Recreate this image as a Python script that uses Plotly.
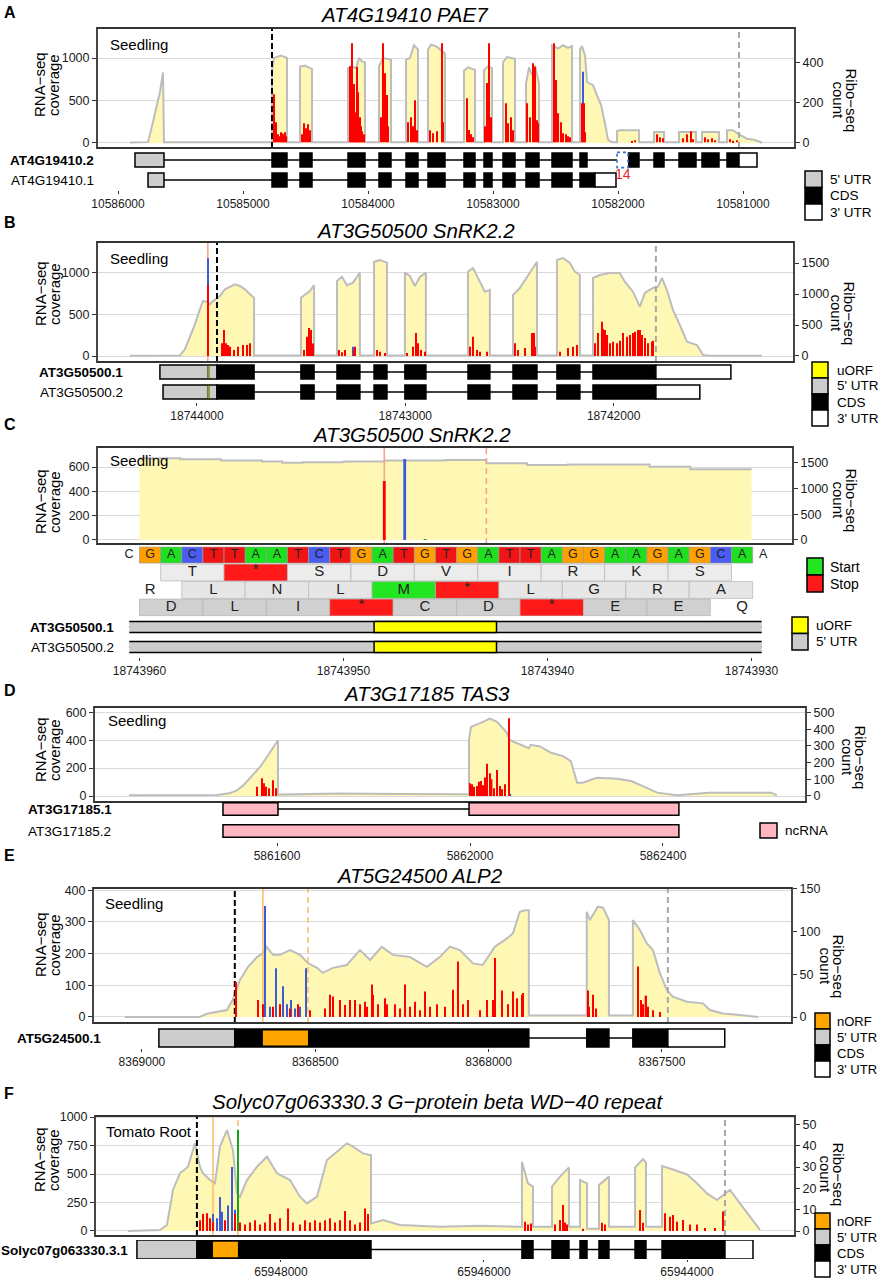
import plotly.graph_objects as go

# ============================ DATA ============================
# ---- Panel A : AT4G19410 PAE7 (Seedling) ----
A_XTICKS = [10586000, 10585000, 10584000, 10583000, 10582000, 10581000]
A_YL_TICKS = [0, 500, 1000]
A_YR_TICKS = [0, 200, 400]
A_COV = [
    (10585904, 5), (10585760, 10), (10585728, 200), (10585696, 420), (10585664, 600), (10585640, 830), (10585632, 8),
    (10584768, 8), (10584768, 850), (10584752, 1000), (10584696, 1030), (10584648, 1000), (10584648, 8),
    (10584544, 8), (10584544, 900), (10584504, 910), (10584448, 870), (10584448, 8),
    (10584160, 8), (10584160, 880), (10584128, 900), (10584096, 880), (10584072, 1000), (10584048, 960), (10584024, 950), (10584024, 8),
    (10583912, 8), (10583912, 900), (10583880, 1000), (10583816, 980), (10583816, 8),
    (10583696, 8), (10583696, 980), (10583664, 1000), (10583632, 1150), (10583600, 1100), (10583600, 8),
    (10583520, 8), (10583520, 1100), (10583496, 1160), (10583448, 1130), (10583384, 1050), (10583384, 8),
    (10583232, 8), (10583232, 850), (10583200, 890), (10583144, 860), (10583144, 8),
    (10583072, 8), (10583072, 860), (10583040, 900), (10583008, 880), (10583008, 8),
    (10582920, 8), (10582920, 950), (10582888, 1010), (10582824, 990), (10582824, 8),
    (10582736, 8), (10582736, 700), (10582712, 890), (10582688, 800), (10582664, 910), (10582632, 700), (10582632, 8),
    (10582528, 8), (10582528, 1150), (10582480, 1110), (10582440, 1150), (10582400, 1120), (10582368, 1140), (10582368, 8),
    (10582304, 8), (10582304, 1100), (10582288, 1140), (10582264, 1030), (10582248, 720), (10582224, 700), (10582200, 680),
    (10582168, 560), (10582136, 450), (10582104, 230), (10582080, 40), (10582048, 8),
    (10582008, 8), (10582008, 140), (10581984, 150), (10581832, 150), (10581832, 8),
    (10581712, 8), (10581712, 130), (10581632, 130), (10581632, 8),
    (10581512, 8), (10581512, 130), (10581376, 130), (10581376, 8),
    (10581328, 8), (10581328, 130), (10581192, 130), (10581192, 8),
    (10581128, 8), (10581128, 150), (10581080, 150), (10581032, 100), (10580968, 50), (10580904, 35), (10580848, 3),
]
A_RED = [
    (10584752, 240), (10584744, 60), (10584736, 100), (10584720, 40), (10584712, 30), (10584696, 50), (10584688, 45),
    (10584680, 40), (10584672, 35), (10584664, 50), (10584656, 30),
    (10584528, 40), (10584512, 95), (10584496, 70), (10584480, 90), (10584464, 60),
    (10584144, 380), (10584136, 120), (10584128, 495), (10584120, 200), (10584112, 292), (10584104, 90), (10584096, 150),
    (10584088, 378), (10584080, 250), (10584072, 60), (10584064, 125), (10584056, 80), (10584048, 55), (10584040, 30), (10584032, 40),
    (10583896, 125), (10583880, 495), (10583864, 345), (10583848, 236), (10583840, 80),
    (10583680, 100), (10583656, 125), (10583640, 80), (10583624, 210), (10583608, 60),
    (10583504, 60), (10583480, 45), (10583448, 55), (10583408, 495), (10583400, 100),
    (10583208, 220), (10583192, 62), (10583176, 40), (10583160, 25),
    (10583064, 80), (10583048, 296), (10583032, 495), (10583016, 125),
    (10582896, 195), (10582880, 95), (10582856, 125), (10582840, 60),
    (10582728, 195), (10582704, 125), (10582680, 395), (10582664, 378), (10582648, 110), (10582640, 95),
    (10582512, 495), (10582496, 312), (10582480, 145), (10582456, 100), (10582440, 45), (10582416, 40), (10582400, 30), (10582384, 25),
    (10582288, 195), (10582272, 195), (10582264, 50),
    (10581888, 5), (10581864, 10),
    (10581688, 40), (10581664, 25), (10581640, 20),
    (10581480, 20), (10581448, 40), (10581416, 55), (10581400, 15),
    (10581304, 25), (10581280, 15), (10581248, 20), (10581224, 10),
    (10581104, 15), (10581080, 8), (10581048, 10),
]
A_BLUE = [(10582280, 353)]
A_GREEN = [(10582504, 270)]
A_START, A_STOP = 10584768, 10581032
A_CDS_SHARED = [(10584768, 10584648), (10584544, 10584448), (10584160, 10584024), (10583912, 10583816),
                (10583696, 10583600), (10583520, 10583384), (10583232, 10583144), (10583072, 10583008),
                (10582920, 10582824), (10582736, 10582632), (10582528, 10582368)]
A_TX = [
    dict(name="AT4G19410.2", bold=True, utr5=[(10585864, 10585632)],
         cds=A_CDS_SHARED + [(10582304, 10582248), (10581920, 10581832), (10581712, 10581632),
                             (10581512, 10581376), (10581328, 10581192), (10581128, 10581032)],
         utr3=[(10581032, 10580888)]),
    dict(name="AT4G19410.1", bold=False, utr5=[(10585760, 10585632)],
         cds=A_CDS_SHARED + [(10582304, 10582184)], utr3=[(10582184, 10582016)]),
]
A_NOVEL_EXON = (10582008, 10581920)
A_NOVEL_LABEL = "14"

# ---- Panels B and C : AT3G50500 SnRK2.2 (Seedling) ----
B_XTICKS = [18744000, 18743000, 18742000]
B_YL_TICKS = [0, 500, 1000]
B_YR_TICKS = [0, 500, 1000, 1500]
B_COV = [
    (18744322, 3), (18744082, 5), (18744058, 80), (18744034, 230), (18744010, 380), (18743986, 560), (18743971, 660),
    (18743952, 650), (18743938, 620), (18743928, 650), (18743904, 690), (18743890, 720), (18743866, 800), (18743842, 830),
    (18743818, 860), (18743794, 840), (18743770, 800), (18743746, 740), (18743726, 700), (18743726, 5),
    (18743501, 5), (18743501, 700), (18743482, 740), (18743458, 780), (18743438, 850), (18743438, 5),
    (18743328, 5), (18743328, 900), (18743304, 950), (18743280, 850), (18743251, 880), (18743218, 1000), (18743218, 5),
    (18743150, 5), (18743150, 1130), (18743122, 1150), (18743088, 1120), (18743088, 5),
    (18743002, 5), (18743002, 1000), (18742978, 960), (18742954, 840), (18742930, 950), (18742901, 1000), (18742901, 5),
    (18742699, 5), (18742699, 1010), (18742675, 1056), (18742642, 892), (18742618, 772), (18742594, 792), (18742594, 5),
    (18742483, 5), (18742483, 732), (18742450, 816), (18742416, 952), (18742387, 1072), (18742368, 1132), (18742368, 5),
    (18742272, 5), (18742272, 1152), (18742243, 1176), (18742210, 1116), (18742186, 1012), (18742162, 972), (18742162, 5),
    (18742099, 5), (18742099, 936), (18742066, 972), (18742018, 996), (18741970, 996), (18741946, 892), (18741907, 772),
    (18741874, 592), (18741850, 756), (18741811, 816), (18741787, 832), (18741768, 936), (18741744, 792), (18741715, 552),
    (18741682, 372), (18741648, 172), (18741600, 132), (18741571, 12), (18741538, 3), (18741288, 3),
]
SNRK_RED = [
    (18743948, 1148), (18743880, 204), (18743870, 419), (18743861, 204), (18743851, 177), (18743842, 150), (18743822, 97),
    (18743803, 150), (18743779, 177), (18743760, 177), (18743746, 204),
    (18743486, 97), (18743472, 310), (18743462, 450), (18743453, 420), (18743443, 200),
    (18743318, 97), (18743304, 60), (18743290, 97), (18743246, 97), (18743242, 150),
    (18743136, 97), (18743122, 70), (18743098, 48),
    (18742992, 48), (18742963, 150), (18742949, 371), (18742939, 204), (18742925, 97), (18742906, 70),
    (18742690, 150), (18742675, 311), (18742656, 97), (18742642, 70), (18742608, 70),
    (18742474, 204), (18742459, 97), (18742426, 130), (18742392, 371), (18742382, 371), (18742378, 150),
    (18742258, 70), (18742219, 130), (18742195, 150), (18742176, 177),
    (18742090, 204), (18742075, 371), (18742056, 554), (18742051, 440), (18742042, 419), (18742032, 338), (18742018, 204),
    (18742003, 230), (18741984, 204), (18741970, 247), (18741955, 371), (18741936, 311), (18741922, 338), (18741907, 371),
    (18741898, 392), (18741883, 419), (18741874, 419), (18741864, 338), (18741850, 290), (18741834, 204), (18741816, 230),
    (18741811, 247),
]
SNRK_BLUE = [(18743947, 1575), (18743251, 150)]
SNRK_GREEN = [(18743946, 15)]
SNRK_UORF_START, SNRK_UORF_STOP = 18743948, 18743943
SNRK_START, SNRK_STOP = 18743904, 18741797
SNRK_CDS = [(18743904, 18743726), (18743501, 18743438), (18743328, 18743218), (18743150, 18743088), (18743002, 18742901),
            (18742699, 18742594), (18742483, 18742368), (18742272, 18742162), (18742099, 18741797)]
SNRK_TX = [
    dict(name="AT3G50500.1", bold=True, utr5=[(18744178, 18743904)], cds=SNRK_CDS, utr3=[(18741797, 18741437)],
         orf=[(18743948.5, 18743942.5)]),
    dict(name="AT3G50500.2", bold=False, utr5=[(18744163, 18743904)], cds=SNRK_CDS, utr3=[(18741797, 18741586)],
         orf=[(18743948.5, 18743942.5)]),
]
C_XTICKS = [18743960, 18743950, 18743940, 18743930]
C_YL_TICKS = [0, 200, 400, 600]
C_YR_TICKS = [0, 500, 1000, 1500]
C_COV = [
    (18743960, 672), (18743959, 672), (18743958, 664), (18743957, 664), (18743956, 653), (18743955, 653), (18743954, 645),
    (18743953, 636), (18743952, 639), (18743951, 639), (18743950, 645), (18743949, 645), (18743948, 653), (18743947, 653),
    (18743946, 653), (18743945, 658), (18743944, 658), (18743943, 631), (18743942, 631), (18743941, 617), (18743940, 617),
    (18743939, 622), (18743938, 622), (18743937, 622), (18743936, 622), (18743935, 603), (18743934, 603), (18743933, 582),
    (18743932, 582), (18743931, 582), (18743930, 582),
]
C_SEQ = "GACTTAATCTGATGTGATTAGGAAGAGCA"
C_FLANKS = ("C", "A")
# (amino acids, first nucleotide index, partial codon at left, partial codon at right)
C_FRAMES = [("T*SDVIRKS", 2, "", ""), ("LNLM*LGRA", 3, "R", ""), ("DLI*CD*EE", 1, "", "Q")]

# ---- Panel D : AT3G17185 TAS3 (Seedling) ----
D_XTICKS = [5861600, 5862000, 5862400]
D_YL_TICKS = [0, 200, 400, 600]
D_YR_TICKS = [0, 100, 200, 300, 400, 500]
D_COV = [
    (5861293, 5), (5861476, 7), (5861501, 19), (5861517, 40), (5861530, 76), (5861546, 138), (5861565, 209), (5861577, 269),
    (5861588, 329), (5861600, 388), (5861602, 400), (5861602, 10), (5861731, 18), (5861855, 15), (5861998, 12),
    (5861998, 400), (5862002, 495), (5862027, 531), (5862041, 555), (5862056, 531), (5862075, 460), (5862083, 400),
    (5862104, 367), (5862122, 343), (5862126, 367), (5862145, 355), (5862168, 310), (5862193, 286), (5862209, 250),
    (5862222, 95), (5862234, 95), (5862263, 131), (5862305, 124), (5862334, 107), (5862365, 60), (5862388, 24),
    (5862429, 5), (5862495, 24), (5862624, 24), (5862636, 5),
]
D_RED = [
    (5861559, 56), (5861569, 106), (5861573, 76), (5861577, 56), (5861583, 46), (5861592, 94), (5861598, 46),
    (5862000, 76), (5862004, 70), (5862008, 56), (5862014, 60), (5862019, 86), (5862023, 90), (5862027, 65),
    (5862031, 110), (5862035, 193), (5862041, 136), (5862045, 100), (5862050, 46), (5862056, 156), (5862062, 60),
    (5862066, 40), (5862072, 70), (5862081, 465),
]
D_BLUE = [(5862084, 10)]
D_TX = [
    dict(name="AT3G17185.1", bold=True, ncrna=[(5861488, 5861602), (5861998, 5862433)]),
    dict(name="AT3G17185.2", bold=False, ncrna=[(5861488, 5862433)]),
]

# ---- Panel E : AT5G24500 ALP2 (Seedling) ----
E_XTICKS = [8369000, 8368500, 8368000, 8367500]
E_YL_TICKS = [0, 100, 200, 300, 400]
E_YR_TICKS = [0, 50, 100, 150]
E_COV = [
    (8369049, 0), (8368833, 0), (8368813, 10), (8368755, 22), (8368738, 54), (8368717, 117), (8368694, 158), (8368668, 189),
    (8368651, 202), (8368640, 221), (8368622, 196), (8368602, 196), (8368573, 211), (8368544, 196), (8368521, 170),
    (8368495, 155), (8368478, 139), (8368449, 155), (8368409, 164), (8368371, 211), (8368342, 180), (8368308, 221),
    (8368276, 196), (8368227, 189), (8368178, 158), (8368141, 189), (8368112, 222), (8368083, 211), (8368045, 169),
    (8368017, 164), (8367982, 222), (8367947, 248), (8367930, 264), (8367910, 332), (8367895, 337), (8367884, 337),
    (8367884, 5), (8367717, 5), (8367717, 332), (8367708, 306), (8367685, 348), (8367670, 345), (8367653, 306),
    (8367653, 5), (8367584, 5), (8367584, 306), (8367564, 275), (8367544, 233), (8367526, 211), (8367506, 138),
    (8367486, 85), (8367469, 64), (8367428, 48), (8367382, 43), (8367362, 22), (8367324, 11), (8367275, 6), (8367223, 0),
]
E_RED = [
    (8368729, 41), (8368665, 20), (8368651, 15), (8368622, 12), (8368602, 15), (8368573, 10), (8368550, 15), (8368515, 8),
    (8368472, 10), (8368458, 26), (8368449, 24), (8368429, 20), (8368415, 14), (8368400, 20), (8368386, 20), (8368371, 15),
    (8368357, 18), (8368351, 12), (8368337, 38), (8368334, 26), (8368319, 15), (8368299, 22), (8368293, 15), (8368270, 15),
    (8368256, 10), (8368241, 38), (8368227, 12), (8368213, 18), (8368198, 8), (8368184, 30), (8368169, 12), (8368149, 15),
    (8368126, 12), (8368103, 32), (8368089, 65), (8368074, 15), (8368060, 20), (8368025, 8), (8368005, 20), (8367988, 20),
    (8367982, 69), (8367962, 31), (8367945, 15), (8367930, 30), (8367918, 22), (8367904, 26), (8367901, 28),
    (8367714, 31), (8367710, 12), (8367699, 26), (8367690, 10),
    (8367570, 59), (8367560, 20), (8367555, 15), (8367548, 25), (8367541, 12), (8367526, 8), (8367506, 6),
]
E_BLUE = [(8368645, 130), (8368631, 12), (8368614, 57), (8368593, 36), (8368582, 15), (8368570, 20), (8368559, 10),
          (8368544, 12), (8368527, 57)]
E_START, E_NORF_START, E_NORF_STOP, E_STOP = 8368732, 8368651, 8368521, 8367483
E_TX = [dict(name="AT5G24500.1", bold=True, utr5=[(8368951, 8368732)],
             cds=[(8368732, 8367884), (8367717, 8367653), (8367584, 8367483)], utr3=[(8367483, 8367319)],
             orf=[(8368651, 8368521)])]

# ---- Panel F : Solyc07g063330.3 (Tomato Root) ----
F_XTICKS = [65948000, 65946000, 65944000]
F_YL_TICKS = [0, 250, 500, 750, 1000]
F_YR_TICKS = [0, 10, 20, 30, 40, 50]
F_COV = [
    (65949507, 0), (65949192, 9), (65949123, 53), (65949064, 360), (65948995, 506), (65948916, 564), (65948847, 769),
    (65948798, 564), (65948768, 506), (65948699, 447), (65948650, 418), (65948601, 740), (65948532, 886), (65948473, 710),
    (65948433, 330), (65948404, 300), (65948335, 447), (65948236, 564), (65948138, 652), (65948039, 506), (65947911, 447),
    (65947813, 301), (65947744, 242), (65947645, 301), (65947547, 623), (65947488, 667), (65947350, 769), (65947291, 740),
    (65947192, 681), (65947123, 667), (65947113, 667), (65947113, 67), (65946995, 96), (65946828, 53), (65946434, 38),
    (65946039, 45), (65945645, 38), (65945626, 38), (65945626, 608), (65945567, 418), (65945517, 389), (65945517, 38),
    (65945330, 38), (65945330, 389), (65945251, 477), (65945163, 558), (65945163, 38), (65945054, 38), (65945054, 447),
    (65944985, 418), (65944985, 20), (65944867, 20), (65944867, 404), (65944769, 477), (65944769, 38), (65944512, 38),
    (65944512, 558), (65944433, 632), (65944404, 600), (65944404, 38), (65944246, 38), (65944246, 570), (65944138, 540),
    (65944000, 496), (65943902, 418), (65943803, 330), (65943705, 272), (65943626, 330), (65943577, 360), (65943478, 242),
    (65943379, 126), (65943281, 9),
]
F_RED = [
    (65948798, 5), (65948768, 8), (65948729, 8.3), (65948699, 6), (65948670, 4), (65948552, 5), (65948453, 8),
    (65948404, 4), (65948355, 3), (65948305, 4), (65948256, 5), (65948207, 3), (65948158, 4), (65948108, 8),
    (65948059, 4), (65948010, 6), (65947931, 10.6), (65947882, 4), (65947813, 3), (65947764, 5), (65947714, 4),
    (65947665, 5), (65947616, 4), (65947567, 5), (65947517, 6), (65947468, 4), (65947419, 5), (65947369, 9.4),
    (65947320, 5), (65947271, 3), (65947222, 4), (65947172, 10.6), (65947143, 8),
    (65945596, 4.4), (65945567, 3), (65945537, 3.5), (65945301, 3), (65945251, 5.2), (65945222, 12.2), (65945202, 4),
    (65945182, 3), (65945025, 1), (65944838, 3.9), (65944808, 3), (65944463, 9.9), (65944434, 3.9),
    (65944217, 8.3), (65944168, 6.7), (65944138, 7.5), (65944099, 4.4), (65944040, 5.2), (65943971, 3), (65943902, 3),
    (65943823, 1.4), (65943724, 1.4), (65943645, 9.1),
]
F_BLUE = [(65948670, 8), (65948631, 6), (65948601, 16), (65948581, 9), (65948522, 12), (65948483, 30), (65948453, 10)]
F_GREEN = [(65948424, 47.6)]
F_START, F_NORF_START, F_NORF_STOP, F_STOP = 65948828, 65948670, 65948424, 65943626
F_TX = [dict(name="Solyc07g063330.3.1", bold=True, utr5=[(65949419, 65948828)],
             cds=[(65948828, 65947113), (65945626, 65945517), (65945330, 65945163), (65945054, 65944985),
                  (65944867, 65944769), (65944512, 65944404), (65944246, 65943626)],
             utr3=[(65943626, 65943350)], orf=[(65948670, 65948424)])]

# ============================ STYLE ============================
W, H = 880, 1280
FONT = "Liberation Sans, Arial, Helvetica, sans-serif"
INK = "#333333"
COV_FILL, COV_LINE = "#fff7b4", "#bdbdbd"
RED, BLUE, GREEN = "#ff0000", "#3b5bdb", "#1aa31a"
SALMON, ORANGE, GRAYDASH = "#f4a68a", "#f9c06e", "#a8a8a8"
FEAT = {"utr5": "#cccccc", "cds": "#000000", "utr3": "#ffffff", "ncrna": "#ffb6c1"}
UORF_C, NORF_C = "#ffff00", "#ffa500"
NT_C = {"A": "#1fe01f", "C": "#4a5cf2", "G": "#ffa000", "T": "#f01414"}
AA_ROW_C = {2: "#ececec", 3: "#e6e6e6", 4: "#d0d0d0"}

fig = go.Figure()
layout = {}
shapes, annos = [], []
counter = {"x": 0, "y": 0}


def new_axis(kind):
    counter[kind] += 1
    n = counter[kind]
    return (kind if n == 1 else f"{kind}{n}"), (f"{kind}axis" if n == 1 else f"{kind}axis{n}")


def fx(p):
    return p / W


def fy(p):
    return 1 - p / H


def text(s, x, y, size, xanchor="center", yanchor="middle", angle=0, color="black"):
    annos.append(dict(text=s, x=fx(x), y=fy(y), xref="paper", yref="paper", xanchor=xanchor, yanchor=yanchor,
                      showarrow=False, textangle=angle, font=dict(size=size, color=color, family=FONT)))


TICK = dict(ticks="outside", ticklen=4, tickwidth=1, tickcolor=INK, zeroline=False, showline=False, automargin=False,
            tickformat="d", tickfont=dict(size=12.5, color="#1a1a1a", family=FONT))


def cov_panel(box, xr, yl, ylt, yr, yrt):
    L, T, R, B = box
    xa, xk = new_axis("x")
    yla, ylk = new_axis("y")
    yra, yrk = new_axis("y")
    layout[xk] = dict(domain=[fx(L), fx(R)], range=list(xr), visible=False, anchor=yla, automargin=False)
    layout[ylk] = dict(domain=[fy(B), fy(T)], range=list(yl), anchor=xa, tickvals=ylt, showgrid=True,
                       gridcolor="#dadada", gridwidth=1, **TICK)
    layout[yrk] = dict(overlaying=yla, side="right", range=list(yr), anchor=xa, tickvals=yrt, showgrid=False, **TICK)
    shapes.append(dict(type="rect", xref="paper", yref="paper", x0=fx(L), x1=fx(R), y0=fy(B), y1=fy(T),
                       line=dict(color=INK, width=1.8), fillcolor="rgba(0,0,0,0)", layer="above"))
    return xa, yla, yra


def add_cov(xa, ya, pts, shape="linear"):
    fig.add_trace(go.Scatter(x=[p[0] for p in pts], y=[p[1] for p in pts], mode="lines",
                             line=dict(color=COV_LINE, width=2, shape=shape), fill="tozeroy", fillcolor=COV_FILL,
                             xaxis=xa, yaxis=ya, hoverinfo="skip"))


def add_bars(xa, ya, pts, color, width):
    fig.add_trace(go.Bar(x=[p[0] for p in pts], y=[p[1] for p in pts], width=width,
                         marker=dict(color=color, line=dict(width=0)), xaxis=xa, yaxis=ya, hoverinfo="skip"))


def vline(xa, ya, x, yl, color, dash="solid", width=1.8):
    fig.add_trace(go.Scatter(x=[x, x], y=[yl[0], yl[1]], mode="lines", line=dict(color=color, width=width, dash=dash),
                             xaxis=xa, yaxis=ya, hoverinfo="skip"))


def gene_panel(xdom, xr, ytop, ybot, nrows, xticks, ticklen=3):
    xa, xk = new_axis("x")
    ya, yk = new_axis("y")
    layout[xk] = dict(domain=[fx(xdom[0]), fx(xdom[1])], range=list(xr), anchor=ya, tickvals=xticks, tickformat="d",
                      ticks="outside", ticklen=ticklen, tickwidth=1, tickcolor=INK, showgrid=False, zeroline=False,
                      showline=False, automargin=False, tickfont=dict(size=12, color="#1a1a1a", family=FONT))
    layout[yk] = dict(domain=[fy(ybot), fy(ytop)], range=[nrows + 0.5, 0.5], visible=False, anchor=xa,
                      automargin=False)
    return xa, ya


def rect(xa, ya, x0, x1, y0, y1, fill, lw=1.5, lc="black", dash=None, layer="above"):
    line = dict(color=lc, width=lw)
    if dash:
        line["dash"] = dash
    shapes.append(dict(type="rect", xref=xa, yref=ya, x0=x0, x1=x1, y0=y0, y1=y1, fillcolor=fill, line=line,
                       layer=layer))


def draw_tx(xa, ya, row, tx, h, orf_color=None, orf_lw=1.2, orf_inset=0.0):
    parts = [(k, a, b) for k in ("utr5", "cds", "utr3", "ncrna") for a, b in tx.get(k, [])]
    xs = [v for _, a, b in parts for v in (a, b)]
    shapes.append(dict(type="line", xref=xa, yref=ya, x0=min(xs), x1=max(xs), y0=row, y1=row,
                       line=dict(color="black", width=1.6), layer="above"))
    for k, a, b in parts:
        rect(xa, ya, a, b, row - h, row + h, FEAT[k])
    for a, b in tx.get("orf", []):
        rect(xa, ya, a, b, row - h + orf_inset, row + h - orf_inset, orf_color, lw=orf_lw)


def row_label(tx, x, y, anchor="right"):
    s = f"<b>{tx['name']}</b>" if tx["bold"] else tx["name"]
    text(s, x, y, 13.5, xanchor=anchor)


def legend(x0, x1, items, tx_x, fs=13.5):
    for label, color, ytop, ybot in items:
        shapes.append(dict(type="rect", xref="paper", yref="paper", x0=fx(x0), x1=fx(x1), y0=fy(ybot), y1=fy(ytop),
                           fillcolor=color, line=dict(color="black", width=1.5), layer="above"))
        text(label, tx_x, (ytop + ybot) / 2, fs, xanchor="left")


def axis_titles(lc, rc):
    text("RNA\u2212seq", lc[0] - 7, lc[1], 15, angle=-90)
    text("coverage", lc[0] + 7, lc[1], 15, angle=-90)
    text("Ribo\u2212seq", rc[0] + 6.5, rc[1], 15, angle=90)
    text("count", rc[0] - 6.5, rc[1], 15, angle=90)


def header(letter, ly, title, tx, ty):
    text(f"<b>{letter}</b>", 2, ly, 16, xanchor="left")
    text(f"<i>{title}</i>", tx, ty, 20.5)


# ============================ PANEL A ============================
header("A", 12, "AT4G19410 PAE7", 404, 14)
A_YL, A_YR = (-59, 1353), (-28.5, 571.5)
xa, yl, yr = cov_panel((97, 28, 795, 148), (10586168, 10580584), A_YL, A_YL_TICKS, A_YR, A_YR_TICKS)
add_cov(xa, yl, A_COV)
vline(xa, yl, A_START, A_YL, "black", "6px,3px", 2)
vline(xa, yl, A_STOP, A_YL, GRAYDASH, "6px,4px", 2)
add_bars(xa, yr, A_BLUE, BLUE, 11)
add_bars(xa, yr, A_GREEN, GREEN, 11)
add_bars(xa, yr, A_RED, RED, 11)
text("Seedling", 108, 44, 15, xanchor="left")
axis_titles((46, 85), (845, 100))
gx, gy = gene_panel((97, 795), (10586168, 10580584), 150, 190, 2, A_XTICKS)
for i, tx in enumerate(A_TX, start=1):
    draw_tx(gx, gy, i, tx, 0.35)
row_label(A_TX[0], 96, 160)
row_label(A_TX[1], 96, 180)
rect(gx, gy, A_NOVEL_EXON[0], A_NOVEL_EXON[1], 0.62, 1.38, "white", lw=1.6, lc="#3b6fd8", dash="dot")
text(A_NOVEL_LABEL, 623, 174, 14, color="#e8282b")
legend(805, 822, [("5' UTR", FEAT["utr5"], 171, 187.5), ("CDS", FEAT["cds"], 187.5, 204),
                  ("3' UTR", FEAT["utr3"], 204, 220)], 828)

# ============================ PANEL B ============================
header("B", 222, "AT3G50500 SnRK2.2", 415, 230)
B_YL, B_YR = (-72, 1368), (-97, 1839)
xa, yl, yr = cov_panel((97, 242, 794, 362), (18744480, 18741134), B_YL, B_YL_TICKS, B_YR, B_YR_TICKS)
add_cov(xa, yl, B_COV)
vline(xa, yl, SNRK_UORF_START, B_YL, SALMON, "solid", 1.6)
vline(xa, yl, SNRK_START, B_YL, "black", "6px,3px", 2)
vline(xa, yl, SNRK_STOP, B_YL, GRAYDASH, "6px,4px", 2)
add_bars(xa, yr, SNRK_BLUE, BLUE, 6)
add_bars(xa, yr, SNRK_GREEN, GREEN, 6)
add_bars(xa, yr, SNRK_RED, RED, 6)
text("Seedling", 108, 258, 15, xanchor="left")
axis_titles((47, 294), (843, 313))
gx, gy = gene_panel((97, 794), (18744480, 18741134), 362, 402, 2, B_XTICKS)
for i, tx in enumerate(SNRK_TX, start=1):
    draw_tx(gx, gy, i, tx, 0.35, orf_color=UORF_C, orf_lw=0.6)
row_label(SNRK_TX[0], 125, 372)
row_label(SNRK_TX[1], 125, 392)
legend(812, 828, [("uORF", UORF_C, 362, 378), ("5' UTR", FEAT["utr5"], 378, 394), ("CDS", FEAT["cds"], 394, 410),
                  ("3' UTR", FEAT["utr3"], 410, 426)], 835)

# ============================ PANEL C ============================
header("C", 424, "AT3G50500 SnRK2.2", 411, 434)
C_YL, C_YR = (-33, 765), (-78, 1810)
C_XR = (18743962.08, 18743927.97)
xa, yl, yr = cov_panel((97, 447, 793, 544), C_XR, C_YL, C_YL_TICKS, C_YR, C_YR_TICKS)
add_cov(xa, yl, C_COV, shape="hv")
vline(xa, yl, SNRK_UORF_START, C_YL, SALMON, "solid", 1.6)
vline(xa, yl, SNRK_UORF_STOP, C_YL, SALMON, "6px,4px", 1.6)
add_bars(xa, yr, SNRK_BLUE, BLUE, 0.14)
add_bars(xa, yr, SNRK_GREEN, GREEN, 0.14)
add_bars(xa, yr, SNRK_RED, RED, 0.14)
text("Seedling", 108, 460, 15, xanchor="left")
axis_titles((47, 502), (845, 500))

# sequence / translation track
sxa, sxk = new_axis("x")
sya, syk = new_axis("y")
layout[sxk] = dict(domain=[fx(97), fx(793)], range=[-1.51, 31.41], visible=False, anchor=sya, automargin=False)
layout[syk] = dict(domain=[fy(616.25), fy(546.25)], range=[4.5, 0.5], visible=False, anchor=sxa, automargin=False)
seq_x, seq_y, seq_t = [], [], []
for i, nt in enumerate(C_SEQ, start=1):
    rect(sxa, sya, i - 0.5, i + 0.5, 0.54, 1.46, NT_C[nt], lw=0.7, lc="#9a9a9a", layer="below")
    seq_x.append(i); seq_y.append(1); seq_t.append(nt)
seq_x += [0, len(C_SEQ) + 1]; seq_y += [1, 1]; seq_t += list(C_FLANKS)
fig.add_trace(go.Scatter(x=seq_x, y=seq_y, text=seq_t, mode="text", xaxis=sxa, yaxis=sya, hoverinfo="skip",
                         textfont=dict(size=12.5, color="#222222", family=FONT)))
aa_x, aa_y, aa_t = [], [], []
for row, (aas, start, left, right) in enumerate(C_FRAMES, start=2):
    for j, aa in enumerate(aas):
        c0 = start + 3 * j
        fill = "#ff1a1a" if aa == "*" else ("#22e622" if aa == "M" else AA_ROW_C[row])
        rect(sxa, sya, c0 - 0.5, c0 + 2.5, row - 0.48, row + 0.48, fill, lw=0.7, lc="#b4b4b4", layer="below")
        aa_x.append(c0 + 1); aa_y.append(row if aa != "*" else row - 0.12); aa_t.append(aa)
    if left:
        aa_x.append(start - 2); aa_y.append(row); aa_t.append(left)
    if right:
        aa_x.append(start + 3 * len(aas) + 1); aa_y.append(row); aa_t.append(right)
fig.add_trace(go.Scatter(x=aa_x, y=aa_y, text=aa_t, mode="text", xaxis=sxa, yaxis=sya, hoverinfo="skip",
                         textfont=dict(size=15, color="#222222", family=FONT)))

gx, gy = gene_panel((129.3, 761.7), (18743960.5, 18743929.5), 617, 657, 2, C_XTICKS)
for i, tx in enumerate(SNRK_TX, start=1):
    draw_tx(gx, gy, i, tx, 0.28, orf_color=UORF_C, orf_lw=1.5)
row_label(SNRK_TX[0], 116, 627)
row_label(SNRK_TX[1], 116, 647)
legend(807, 823, [("Start", "#22e622", 558, 575), ("Stop", "#ff1a1a", 575, 592)], 828, fs=14)
legend(792, 808, [("uORF", UORF_C, 617, 633.5), ("5' UTR", FEAT["utr5"], 633.5, 650)], 814)

# ============================ PANEL D ============================
header("D", 690, "AT3G17185 TAS3", 426, 693)
D_YL, D_YR = (-43, 638), (-36, 533)
D_XR = (5861220.7, 5862696.4)
xa, yl, yr = cov_panel((94, 707, 806, 802), D_XR, D_YL, D_YL_TICKS, D_YR, D_YR_TICKS)
add_cov(xa, yl, D_COV)
add_bars(xa, yr, D_BLUE, BLUE, 3)
add_bars(xa, yr, D_RED, RED, 3)
text("Seedling", 106, 720, 15, xanchor="left")
axis_titles((47, 750), (854, 757))
gx, gy = gene_panel((94, 806), D_XR, 798, 842, 2, D_XTICKS)
for i, tx in enumerate(D_TX, start=1):
    draw_tx(gx, gy, i, tx, 0.28)
row_label(D_TX[0], 26, 809, anchor="left")
row_label(D_TX[1], 26, 831, anchor="left")
legend(760, 777, [("ncRNA", FEAT["ncrna"], 823, 838)], 783)

# ============================ PANEL E ============================
header("E", 855, "AT5G24500 ALP2", 419, 875)
E_YL, E_YR = (-19, 407), (-7, 151)
E_XR = (8369141, 8367125)
xa, yl, yr = cov_panel((93, 888, 792, 1023), E_XR, E_YL, E_YL_TICKS, E_YR, E_YR_TICKS)
add_cov(xa, yl, E_COV)
vline(xa, yl, E_START, E_YL, "black", "6px,3px", 2)
vline(xa, yl, E_NORF_START, E_YL, ORANGE, "solid", 1.6)
vline(xa, yl, E_NORF_STOP, E_YL, ORANGE, "6px,4px", 1.6)
vline(xa, yl, E_STOP, E_YL, GRAYDASH, "6px,4px", 2)
add_bars(xa, yr, E_BLUE, BLUE, 4)
add_bars(xa, yr, E_RED, RED, 4)
text("Seedling", 103, 903, 15, xanchor="left")
axis_titles((47, 945), (832, 966))
gx, gy = gene_panel((93, 792), E_XR, 1028, 1048, 1, E_XTICKS)
draw_tx(gx, gy, 1, E_TX[0], 0.45, orf_color=NORF_C, orf_lw=0, orf_inset=0.08)
row_label(E_TX[0], 103, 1038)
legend(815, 830, [("nORF", NORF_C, 1013, 1029), ("5' UTR", FEAT["utr5"], 1029, 1045), ("CDS", FEAT["cds"], 1045, 1061),
                  ("3' UTR", FEAT["utr3"], 1061, 1077)], 835, fs=13)

# ============================ PANEL F ============================
header("F", 1093, "Solyc07g063330.3 G\u2212protein beta WD\u221240 repeat", 437, 1101)
F_YL, F_YR = (-44, 1009), (-2.35, 54.0)
F_XR = (65949832, 65942936)
xa, yl, yr = cov_panel((95, 1116, 795, 1236), F_XR, F_YL, F_YL_TICKS, F_YR, F_YR_TICKS)
add_cov(xa, yl, F_COV)
vline(xa, yl, F_START, F_YL, "black", "6px,3px", 2)
vline(xa, yl, F_NORF_START, F_YL, ORANGE, "solid", 1.6)
vline(xa, yl, F_NORF_STOP, F_YL, ORANGE, "6px,4px", 1.6)
vline(xa, yl, F_STOP, F_YL, GRAYDASH, "6px,4px", 2)
add_bars(xa, yr, F_BLUE, BLUE, 13)
add_bars(xa, yr, F_GREEN, GREEN, 13)
add_bars(xa, yr, F_RED, RED, 13)
text("Tomato Root", 104, 1131, 15, xanchor="left")
axis_titles((46, 1160), (832, 1174))
gx, gy = gene_panel((95, 795), F_XR, 1240, 1259, 1, F_XTICKS, ticklen=2)
draw_tx(gx, gy, 1, F_TX[0], 0.5, orf_color=NORF_C, orf_lw=0, orf_inset=0.09)
row_label(F_TX[0], 130, 1250)
legend(815, 830, [("nORF", NORF_C, 1213, 1229), ("5' UTR", FEAT["utr5"], 1229, 1245), ("CDS", FEAT["cds"], 1245, 1261),
                  ("3' UTR", FEAT["utr3"], 1261, 1277)], 835, fs=13)

# ============================ LAYOUT ============================
fig.update_layout(template="none", width=W, height=H, margin=dict(l=0, r=0, t=0, b=0, pad=0, autoexpand=False),
                  paper_bgcolor="white", plot_bgcolor="white",
                  showlegend=False, barmode="overlay", hovermode=False, font=dict(family=FONT, color="black"),
                  shapes=shapes, annotations=annos, **layout)
fig.write_html("out.html")
